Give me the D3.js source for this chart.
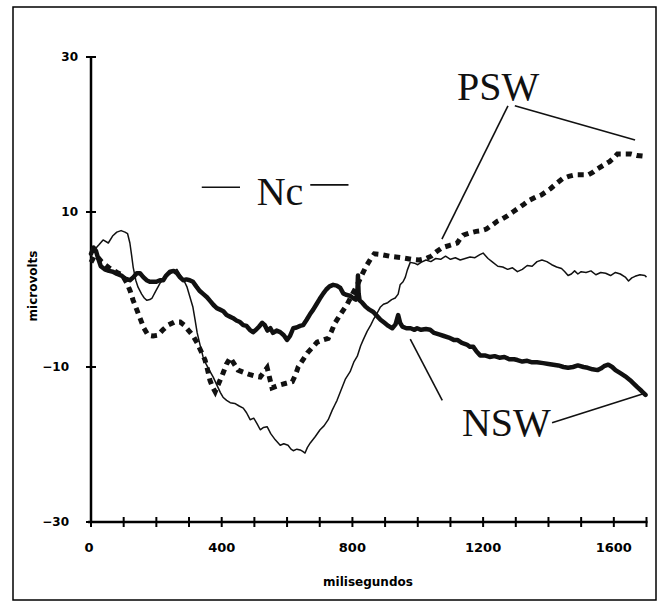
<!DOCTYPE html>
<html>
<head>
<meta charset="utf-8">
<script src="https://cdn.jsdelivr.net/npm/d3@7"></script>
<style>
  html, body { margin: 0; padding: 0; background: #fff; }
  svg { display: block; }
</style>
</head>
<body>
<svg id="chart" width="663" height="604"></svg>
<script>
// ---------- data ----------
const xTicks = [0,100,200,300,400,500,600,700,800,900,1000,1100,1200,1300,1400,1500,1600,1700];
const xTickLabels = [0, 400, 800, 1200, 1600];
const yTicks = [30, 10, -10, -30];
const xTitle = "milisegundos";
const yTitle = "microvolts";

// Nc : thin solid line  [ms, microvolts]
const ncSeries = [
[0,4.6],[12,5.2],[25,5.8],[37,6.4],[53,6.0],[66,6.9],[79,7.4],[92,7.6],[104,7.4],[112,7.2],[119,6.0],[124,4.5],[129,2.9],[137,1.2],[144,0.3],[155,-0.6],[163,-1.1],[171,-1.4],[180,-1.3],[187,-1.1],[198,-0.2],[211,0.8],[224,1.4],[236,1.9],[250,2.2],[263,2.6],[273,1.9],[284,1.2],[294,0.3],[303,-1.0],[312,-2.3],[318,-3.8],[325,-5.6],[334,-7.2],[343,-8.7],[352,-9.6],[362,-10.4],[374,-11.3],[386,-12.4],[396,-13.3],[404,-13.9],[415,-14.3],[426,-14.6],[440,-14.7],[452,-15.0],[466,-15.3],[476,-15.9],[487,-16.8],[498,-16.6],[508,-17.3],[518,-18.1],[528,-17.8],[539,-17.7],[550,-18.6],[564,-19.4],[579,-20.1],[590,-19.9],[603,-20.1],[612,-20.6],[619,-20.8],[630,-20.6],[640,-20.7],[648,-20.9],[655,-21.1],[662,-20.4],[671,-19.8],[686,-19.0],[701,-18.1],[713,-17.6],[726,-16.8],[738,-15.6],[746,-14.9],[753,-14.3],[765,-13.0],[778,-11.6],[793,-10.6],[805,-9.3],[815,-8.6],[825,-7.3],[833,-6.5],[845,-5.4],[856,-4.6],[864,-3.9],[875,-3.1],[885,-2.3],[895,-1.9],[908,-1.7],[920,-1.3],[931,-1.1],[940,-0.6],[946,0.6],[955,1.0],[962,1.6],[968,2.5],[977,3.5],
[990,3.4],[1000,3.2],[1010,3.5],[1025,3.8],[1040,3.6],[1055,4.0],[1070,3.9],[1085,4.3],[1100,3.9],[1115,4.1],[1130,3.8],[1145,4.0],[1160,4.2],[1175,4.1],[1190,4.5],[1200,4.7],[1215,4.0],[1230,3.5],[1245,3.0],[1260,2.9],[1275,2.6],[1290,2.8],[1305,2.3],[1320,2.6],[1335,3.1],[1350,3.0],[1365,3.6],[1380,3.8],[1395,3.6],[1410,3.2],[1425,2.9],[1440,2.7],[1450,2.3],[1460,1.8],[1470,2.0],[1480,2.4],[1490,2.0],[1500,2.3],[1515,2.2],[1530,2.4],[1545,1.9],[1560,2.2],[1575,2.1],[1590,1.8],[1605,2.2],[1620,2.0],[1635,1.6],[1645,1.1],[1655,1.5],[1665,1.7],[1680,1.9],[1695,1.8],[1700,1.6]
];

// PSW : heavy dotted line
const pswSeries = [
[0,3.5],[10,4.3],[20,4.2],[32,3.6],[43,3.2],[55,2.8],[67,2.5],[80,2.2],[95,1.9],[110,0.8],[120,-0.2],[129,-1.4],[140,-2.6],[150,-3.7],[162,-5.0],[175,-5.9],[190,-6.0],[205,-5.9],[220,-5.2],[236,-4.6],[255,-4.2],[273,-4.2],[285,-4.6],[297,-5.2],[311,-5.9],[325,-6.9],[337,-8.0],[349,-9.1],[357,-10.4],[364,-11.7],[372,-12.6],[380,-13.2],[392,-12.0],[404,-10.8],[415,-9.6],[426,-8.8],[438,-9.6],[450,-10.4],[468,-10.7],[487,-11.0],[503,-11.2],[518,-11.3],[530,-10.6],[539,-10.1],[546,-11.3],[554,-12.7],[566,-12.5],[579,-12.3],[597,-12.1],[616,-11.9],[626,-11.0],[634,-10.0],[648,-9.1],[662,-8.2],[677,-7.5],[692,-6.8],[710,-6.5],[726,-6.3],[737,-5.3],[747,-4.3],[765,-3.1],[784,-1.9],[800,-0.6],[815,0.6],[828,1.8],[842,3.0],[855,3.9],[867,4.6],[890,4.5],[913,4.3],[933,4.2],[953,4.1],[980,3.9],[1005,3.8],[1025,4.0],[1041,4.3],[1058,4.9],[1075,5.4],[1098,5.7],[1121,6.0],[1130,6.6],[1139,7.0],[1160,7.3],[1179,7.5],[1195,7.6],[1210,7.8],[1227,8.3],[1243,8.8],[1258,9.1],[1274,9.5],[1291,10.0],[1308,10.5],[1325,11.0],[1341,11.5],[1360,11.9],[1378,12.2],[1392,12.6],[1406,13.0],[1425,13.7],[1443,14.3],[1462,14.6],[1482,14.8],[1502,14.8],[1522,14.8],[1535,15.1],[1547,15.5],[1567,16.0],[1587,16.5],[1600,17.0],[1611,17.5],[1630,17.5],[1651,17.5],[1670,17.3],[1691,17.2]
];

// NSW : thick solid line
const nswSeries = [
[0,4.6],[8,5.4],[15,5.0],[22,4.0],[30,3.0],[42,2.6],[55,2.4],[67,2.3],[80,2.0],[93,1.8],[105,1.4],[119,1.2],[130,1.6],[140,2.1],[150,2.1],[160,1.6],[170,1.2],[180,1.0],[190,1.0],[200,1.0],[211,1.2],[221,1.2],[230,1.8],[242,2.3],[253,2.4],[263,2.1],[272,1.6],[282,1.2],[292,1.3],[302,1.2],[312,1.0],[322,0.4],[333,-0.2],[344,-0.6],[355,-1.0],[365,-1.5],[375,-2.0],[385,-2.4],[395,-2.6],[405,-2.8],[415,-3.3],[425,-3.5],[435,-3.7],[445,-4.0],[456,-4.2],[466,-4.6],[476,-4.7],[486,-5.2],[496,-5.5],[505,-5.2],[514,-4.8],[524,-4.3],[532,-4.6],[540,-5.3],[549,-5.0],[557,-5.6],[568,-5.3],[579,-5.5],[590,-5.9],[600,-6.5],[609,-6.0],[619,-5.0],[629,-4.9],[640,-4.7],[649,-4.6],[660,-3.9],[670,-3.2],[680,-2.6],[690,-1.9],[700,-1.2],[711,-0.5],[720,0.0],[730,0.4],[741,0.6],[752,0.5],[763,0.2],[772,-0.5],[782,-0.7],[792,-0.8],[802,-1.1],[810,-1.3],[815,-0.5],[817,1.8],[819,-0.5],[822,-1.4],[830,-1.7],[840,-2.2],[852,-2.6],[864,-2.9],[875,-3.4],[886,-3.9],[898,-4.3],[910,-4.7],[922,-5.0],[932,-4.5],[940,-3.3],[946,-4.3],[953,-4.8],[965,-5.0],[978,-5.0],[990,-5.2],[998,-5.0],[1010,-5.2],[1025,-5.1],[1038,-5.2],[1050,-5.6],[1065,-5.8],[1080,-6.0],[1095,-6.2],[1110,-6.5],[1121,-6.5],[1135,-6.9],[1150,-7.1],[1160,-7.4],[1170,-7.4],[1180,-8.0],[1191,-8.5],[1205,-8.5],[1220,-8.7],[1235,-8.6],[1250,-8.8],[1265,-8.7],[1280,-9.0],[1295,-9.0],[1305,-9.1],[1320,-9.3],[1335,-9.2],[1350,-9.4],[1365,-9.4],[1384,-9.5],[1400,-9.6],[1415,-9.7],[1430,-9.8],[1446,-10.0],[1460,-10.1],[1475,-10.0],[1490,-9.8],[1507,-10.0],[1520,-10.1],[1535,-10.3],[1550,-10.4],[1560,-10.2],[1570,-9.9],[1583,-9.7],[1595,-10.0],[1605,-10.4],[1620,-10.8],[1635,-11.2],[1650,-11.7],[1660,-12.1],[1672,-12.6],[1685,-13.1],[1697,-13.6]
];

// annotation labels (data coordinates)
const labelNames = ["Nc", "PSW", "NSW"];
const labelAnchors = [[507, 10.9], [1120, 24.45], [1135, -18.9]];
// leader / legend strokes (data coordinates)
const leaderLines = [
  [[339, 13.2], [456, 13.2]],
  [[671, 13.5], [788, 13.5]],
  [[1276, 23.7], [1074, 6.5]],
  [[1297, 23.7], [1665, 19.3]],
  [[1411, -17.2], [1695, -13.4]],
  [[977, -6.4], [1075, -14.3]]
];

// ---------- drawing ----------
const svg = d3.select("#chart");

svg.append("rect")
  .attr("x", 13).attr("y", 7)
  .attr("width", 643).attr("height", 593)
  .attr("fill", "none").attr("stroke", "#000").attr("stroke-width", 1.5);

const x = d3.scaleLinear().domain([0, 1700]).range([91, 646.5]);
const y = d3.scaleLinear().domain([-30, 30]).range([522, 57]);

// X axis
const gx = svg.append("g").attr("transform", `translate(0,${y(-30)})`);
gx.append("line").attr("x1", x(0) - 3).attr("x2", x(1700) + 1)
  .attr("stroke", "#000").attr("stroke-width", 2.5);
gx.selectAll("line.t").data(xTicks).join("line").attr("class", "t")
  .attr("x1", d => x(d)).attr("x2", d => x(d))
  .attr("y1", -5).attr("y2", 5)
  .attr("stroke", "#000").attr("stroke-width", 2);
gx.selectAll("text").data(xTickLabels).join("text")
  .attr("x", d => x(d) + (d === 0 ? -2 : 0)).attr("y", 30)
  .attr("text-anchor", "middle")
  .attr("font-family", "DejaVu Sans, sans-serif").attr("font-weight", "bold")
  .attr("font-size", 13).text(d => d);

// Y axis
const gy = svg.append("g").attr("transform", `translate(${x(0)},0)`);
gy.append("line").attr("y1", y(30)).attr("y2", y(-30) + 1)
  .attr("stroke", "#000").attr("stroke-width", 2.5);
gy.selectAll("line.t").data(yTicks).join("line").attr("class", "t")
  .attr("x1", -5).attr("x2", 5)
  .attr("y1", d => y(d)).attr("y2", d => y(d))
  .attr("stroke", "#000").attr("stroke-width", 2);
gy.selectAll("text").data(yTicks).join("text")
  .attr("x", d => d < 0 ? -22 : -13).attr("y", d => y(d))
  .attr("dy", "0.35em")
  .attr("text-anchor", "end")
  .attr("font-family", "DejaVu Sans, sans-serif").attr("font-weight", "bold")
  .attr("font-size", 12).text(d => d < 0 ? "\u2212" + Math.abs(d) : d);

// axis titles
svg.append("text").attr("x", 368).attr("y", 586)
  .attr("text-anchor", "middle")
  .attr("font-family", "DejaVu Sans, sans-serif").attr("font-weight", "bold")
  .attr("font-size", 12).text(xTitle);
svg.append("text")
  .attr("transform", "translate(37,286) rotate(-90)")
  .attr("text-anchor", "middle")
  .attr("font-family", "DejaVu Sans, sans-serif").attr("font-weight", "bold")
  .attr("font-size", 12).text(yTitle);

// series
const line = d3.line().x(d => x(d[0])).y(d => y(d[1]));

svg.append("path").datum(ncSeries).attr("d", line)
  .attr("fill", "none").attr("stroke", "#111").attr("stroke-width", 1.5)
  .attr("stroke-linejoin", "round");
svg.append("path").datum(pswSeries).attr("d", line)
  .attr("fill", "none").attr("stroke", "#111").attr("stroke-width", 5)
  .attr("stroke-dasharray", "6,5");
svg.append("path").datum(nswSeries).attr("d", line)
  .attr("fill", "none").attr("stroke", "#111").attr("stroke-width", 4.5)
  .attr("stroke-linejoin", "round").attr("stroke-linecap", "round");

// leader lines
svg.selectAll("line.leader").data(leaderLines).join("line").attr("class", "leader")
  .attr("x1", d => x(d[0][0])).attr("y1", d => y(d[0][1]))
  .attr("x2", d => x(d[1][0])).attr("y2", d => y(d[1][1]))
  .attr("stroke", "#111").attr("stroke-width", 1.6);

// labels
svg.selectAll("text.lbl").data(labelNames).join("text").attr("class", "lbl")
  .attr("x", (d, i) => x(labelAnchors[i][0]))
  .attr("y", (d, i) => y(labelAnchors[i][1]))
  .attr("font-family", "Liberation Serif, Times New Roman, serif")
  .attr("font-size", 40).attr("fill", "#111").text(d => d);
</script>
</body>
</html>
